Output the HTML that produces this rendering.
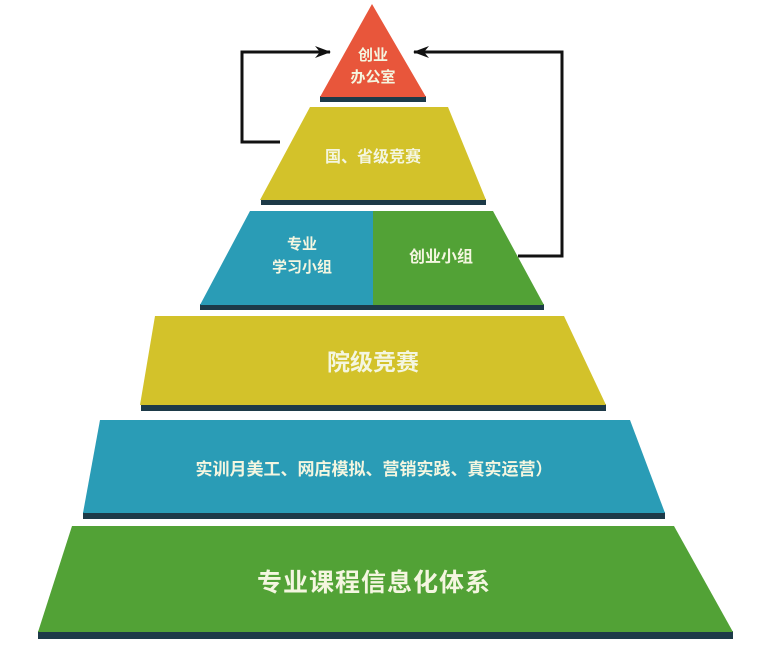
<!DOCTYPE html>
<html><head><meta charset="utf-8"><style>
html,body{margin:0;padding:0;background:#fff;}
svg text{font-family:"Liberation Sans","Noto Sans CJK SC",sans-serif;fill:#f4f6e0;font-weight:bold;text-anchor:middle;}
</style></head><body>
<svg width="761" height="667" viewBox="0 0 761 667" xmlns="http://www.w3.org/2000/svg">
<defs><marker id="ah" markerWidth="16" markerHeight="12" refX="15" refY="6" orient="auto" markerUnits="userSpaceOnUse"><path d="M0,0 L16,6 L0,12 L5,6 Z" fill="#111"/></marker></defs>
<polyline points="280,142 242,142 242,52 330,52" fill="none" stroke="#111" stroke-width="3" marker-end="url(#ah)"/>
<polyline points="518,256 562,256 562,52 414,52" fill="none" stroke="#111" stroke-width="3" marker-end="url(#ah)"/>
<rect x="320" y="96" width="106" height="6" fill="#1d3a48"/>
<polygon points="372,4 426,97 320,97" fill="#e8563b"/>
<text x="373" y="60" font-size="15">创业</text>
<text x="373" y="82" font-size="15">办公室</text>
<rect x="261" y="199" width="225" height="6" fill="#1d3a48"/>
<polygon points="310,107 448,107 486,200 260,200" fill="#d3c22a"/>
<text x="373" y="162" font-size="16">国、省级竞赛</text>
<rect x="200" y="304" width="344" height="6" fill="#1d3a48"/>
<polygon points="250,211 373,211 373,305 200,305" fill="#2a9cb6"/>
<polygon points="373,211 493,211 544,305 373,305" fill="#52a236"/>
<text x="302" y="249" font-size="15">专业</text>
<text x="302" y="272" font-size="15">学习小组</text>
<text x="441" y="262" font-size="16">创业小组</text>
<rect x="141" y="404" width="465" height="7" fill="#1d3a48"/>
<polygon points="155,316 564,316 606,405 140,405" fill="#d3c22a"/>
<text x="373" y="370" font-size="23">院级竞赛</text>
<rect x="83" y="512" width="582" height="7" fill="#1d3a48"/>
<polygon points="100,420 630,420 665,513 83,513" fill="#2a9cb6"/>
<text x="374" y="475" font-size="17">实训月美工、网店模拟、营销实践、真实运营）</text>
<rect x="38" y="631" width="695" height="8" fill="#1d3a48"/>
<polygon points="72,526 674,526 733,632 38,632" fill="#52a236"/>
<text x="374" y="591" font-size="25" font-weight="normal" letter-spacing="1">专业课程信息化体系</text>
</svg>
</body></html>
